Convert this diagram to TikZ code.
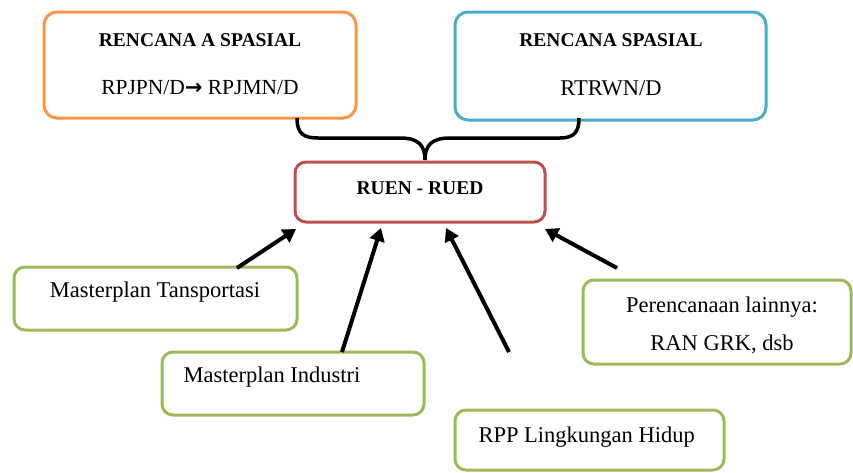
\documentclass[tikz,border=0pt]{standalone}
\usepackage{fontspec}
\setmainfont{Liberation Serif}
\newfontfamily\arrowfont{DejaVu Sans}
\usetikzlibrary{arrows.meta}
\definecolor{cOrange}{HTML}{F79646}
\definecolor{cBlue}{HTML}{4BACC6}
\definecolor{cRed}{HTML}{C0504D}
\definecolor{cGreen}{HTML}{9BBB59}
\begin{document}
\begin{tikzpicture}[x=1pt,y=-1pt,
  box/.style={draw, line width=3pt, rounded corners=13pt},
  ttl/.style={font=\fontsize{19.5}{23}\selectfont\bfseries, anchor=center},
  txt/.style={font=\fontsize{22.5}{26}\selectfont, anchor=center},
  ltxt/.style={font=\fontsize{22.5}{26}\selectfont, anchor=west},
  arr/.style={line width=4pt, -{Triangle[length=13pt,width=15pt]}},
  brace/.style={line width=3.5pt, black}]
\useasboundingbox (0,0) rectangle (853,472);
% top boxes
\draw[box, cOrange] (44,12) rectangle (356,118);
\node[ttl] (ta) at (200,40) {RENCANA A SPASIAL};
\node[txt, font=\fontsize{21.5}{26}\selectfont] (tb) at (200,88) {RPJPN/D{\arrowfont\bfseries\fontsize{21}{24}\selectfont →} RPJMN/D};
\draw[box, cBlue] (455,12) rectangle (766,120);
\node[ttl] (tc) at (611,40) {RENCANA SPASIAL};
\node[txt] (td) at (611,88) {RTRWN/D};
% center box
\draw[box, cRed, rounded corners=11pt] (295,162) rectangle (545,222);
\node[ttl] (ruen) at (420,188) {RUEN - RUED};
% brace
\draw[brace] (297,118) .. controls (297,134) and (304,138) .. (318,138)
  -- (400,138) .. controls (418,138) and (425,145) .. (425,160)
  .. controls (425,145) and (432,138) .. (450,138)
  -- (560,138) .. controls (574,138) and (579,132) .. (579,118);
% green boxes
\draw[box, cGreen, rounded corners=11pt] (14,267) rectangle (297,330);
\node[txt] (mt) at (155,292) {Masterplan Tansportasi};
\draw[box, cGreen, rounded corners=11pt] (162,352) rectangle (424,415);
\node[ltxt] (mi) at (180,377) {Masterplan Industri};
\draw[box, cGreen, rounded corners=11pt] (455,410) rectangle (724,470);
\node[ltxt] (rpp) at (475,437) {RPP Lingkungan Hidup};
\draw[box, cGreen, rounded corners=11pt] (583,280) rectangle (851,364);
\node[txt] (pl1) at (722,307) {Perencanaan lainnya:};
\node[txt] (pl2) at (722,344) {RAN GRK, dsb};
% arrow endpoints
\coordinate (a1s) at (237,268); \coordinate (a1e) at (296,229);
\coordinate (a2s) at (342,352); \coordinate (a2e) at (381,228);
\coordinate (a3s) at (509,352); \coordinate (a3e) at (446,228);
\coordinate (a4s) at (617,268); \coordinate (a4e) at (545,229);
\draw[arr] (a1s) -- (a1e);
\draw[arr] (a2s) -- (a2e);
\draw[arr] (a3s) -- (a3e);
\draw[arr] (a4s) -- (a4e);
\end{tikzpicture}
\end{document}
